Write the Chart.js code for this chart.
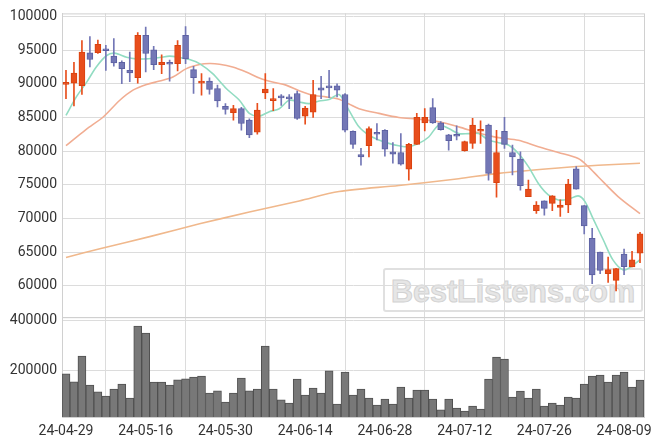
<!DOCTYPE html>
<html>
<head>
<meta charset="utf-8">
<script src="https://cdn.jsdelivr.net/npm/chart.js@4"></script>
<style>
  html, body { margin: 0; padding: 0; background: #fff; }
  #wrap { position: relative; width: 663px; height: 447px; }
  #mark {
    position: absolute; left: 383px; top: 268px; width: 256px; height: 40px;
    border: 2px solid #e0e0e0; border-radius: 3px;
    font: bold 30.5px "Liberation Sans", Arial, sans-serif; color: #e6e6e6;
    -webkit-text-stroke: 1px #d2d2d2;
    text-align: center; line-height: 42px; white-space: nowrap;
  }
  canvas { position: absolute; left: 0; top: 0; }
</style>
</head>
<body>
<div id="wrap">
  <div id="mark">BestListens.com</div>
  <canvas id="chart" width="663" height="447"></canvas>
</div>
<script>
// trading days
const dates = [
  '24-04-29','24-04-30','24-05-02','24-05-03','24-05-07','24-05-08','24-05-09','24-05-10','24-05-13','24-05-14',
  '24-05-16','24-05-17','24-05-20','24-05-21','24-05-22','24-05-23','24-05-24','24-05-27','24-05-28','24-05-29',
  '24-05-30','24-05-31','24-06-03','24-06-04','24-06-05','24-06-07','24-06-10','24-06-11','24-06-12','24-06-13',
  '24-06-14','24-06-17','24-06-18','24-06-19','24-06-20','24-06-21','24-06-24','24-06-25','24-06-26','24-06-27',
  '24-06-28','24-07-01','24-07-02','24-07-03','24-07-04','24-07-05','24-07-08','24-07-09','24-07-10','24-07-11',
  '24-07-12','24-07-15','24-07-16','24-07-17','24-07-18','24-07-19','24-07-22','24-07-23','24-07-24','24-07-25',
  '24-07-26','24-07-29','24-07-30','24-07-31','24-08-01','24-08-02','24-08-05','24-08-06','24-08-07','24-08-08',
  '24-08-09','24-08-12','24-08-13'
];

const open = [
  89900,90100,89700,94600,94600,95100,94100,93200,92000,90900,
  97200,95050,92850,93200,93000,97200,92100,90100,90400,89300,
  86650,85700,86300,84600,82800,88650,87500,88200,87850,88550,
  85200,85800,89400,89650,89700,88400,82950,79500,80800,82750,
  83100,79900,79800,77300,81000,84200,86450,84200,82400,82500,
  80050,81150,82950,83850,75300,82950,79800,78800,73250,71150,
  72600,72250,71650,72000,77350,71900,67050,65000,61800,60800,
  64700,62800,64850
];
const high = [
  92000,93200,96400,97000,96500,95700,96700,93400,94700,97600,
  98400,95550,94300,93500,96400,98500,92600,91500,90900,89800,
  87050,86800,86500,84800,87100,91500,89300,88400,88400,88900,
  86650,90500,91100,92000,90000,88550,83000,80400,83600,84100,
  83200,81250,82600,81150,85600,86300,87800,84400,82500,83750,
  81500,84850,84500,84000,83100,85000,80900,79900,75700,72500,
  72600,73400,72750,75800,77700,71900,68550,65000,64250,62600,
  65450,65100,67950
];
const low = [
  87800,86700,88400,92500,94500,92000,92600,90000,90300,90100,
  91750,92100,91500,90400,91900,93000,88550,88300,88450,86550,
  85500,84600,83100,82000,82500,87800,86000,86800,86300,84700,
  84000,85000,87800,87950,88050,82850,80400,77900,79150,81650,
  79250,78200,77900,75700,81000,83000,84100,83100,80150,81650,
  80000,80400,81150,75700,73150,80400,76450,74200,73250,70750,
  70500,71150,70300,70850,74350,67700,60300,61800,60500,59250,
  61650,62800,63450
];
const close = [
  90200,91600,94700,93600,95850,94900,93100,92250,91600,97200,
  94500,92850,93200,92900,95700,93700,90900,90400,89150,87450,
  86200,86300,84100,82400,86100,89200,87600,87900,87750,84850,
  86400,88400,89050,89400,89050,83100,81000,79150,83350,82500,
  80300,79550,78050,81000,85000,85000,84200,83200,81550,82200,
  81400,83850,83250,76700,79800,81000,79150,74850,74350,72000,
  71500,73350,72000,75100,74350,68900,61600,62300,62400,62550,
  62850,63850,67700
];
const volume = [
  188000,156000,258700,142700,116000,98700,126700,146700,90700,378700,
  350700,154700,154700,142700,164000,168000,174700,178700,110700,120000,
  74700,110700,170700,120000,126700,298700,126700,84000,70700,166700,
  102700,130700,110700,200000,66700,194700,102700,126700,90700,62700,
  86700,66700,134700,90700,122700,122700,86700,43300,86700,50700,
  38700,58700,46700,166700,254700,246700,94700,118700,90700,126700,
  58700,70700,62700,94700,90700,146700,178700,182700,154700,182700,
  194700,134700,162700
];

// moving averages: [day index, price]
const maShort = [
  [0,85300],[1.3,88050],[2.6,90250],[3.8,92500],[5.1,94200],[6.1,94550],[7.6,93950],[8.8,93700],
  [10.1,93700],[11.75,93900],[13,94100],[14.25,93900],[15.5,93600],[16.75,93000],[18.4,91500],
  [20.1,89300],[21.75,87550],[23,85600],[24.25,85200],[25.5,85850],[26.75,86300],[28,87550],
  [29.25,87300],[30.5,87050],[31.75,87450],[33,87650],[34.25,88400],[35.5,86050],[36.75,83600],
  [38,82350],[39.25,81650],[40.5,81150],[41.75,80800],[43,80650],[44.25,81150],[45.5,82100],
  [46.75,83850],[48,83350],[49.25,82600],[50.5,82600],[51.75,82600],[53,81650],[54.25,81250],
  [55.5,80900],[56.75,79650],[58,77700],[59.25,75200],[60.5,73500],[61.75,72750],[63,72850],
  [64.25,73350],[65.1,72500],[66.1,70000],[67.4,66800],[68.6,63850],[69.9,62350],[70.9,62850],
  [72,63870]
];
const maMid = [
  [0,80800],[2.5,83200],[4.7,85100],[6.75,87550],[8.4,89050],[10.1,89900],[11.75,90400],
  [13.4,91000],[15.1,92250],[16.75,92850],[18,93000],[19.25,92900],[20.9,92500],[22.6,91750],
  [24.25,90850],[25.9,90250],[27.6,89800],[29.25,88950],[30.9,88300],[32.6,88050],[34.25,87700],
  [35.5,87000],[36.75,86300],[39.25,85600],[41.75,85000],[44.25,84750],[46.75,84350],
  [49.25,83600],[51.75,82700],[54.25,82000],[56.75,81600],[59.25,80650],[61.75,79800],
  [64.25,78900],[65.5,77700],[66.75,76200],[69.25,73250],[72,70700]
];
const maLong = [
  [0,64200],[4.25,65500],[10.5,67300],[16.75,69200],[23,70950],[29.25,72600],[34.25,74000],
  [41.75,74900],[49.25,75900],[54.25,76700],[61.75,77500],[66.75,77900],[72,78200]
];

const priceTicks = [60000, 65000, 70000, 75000, 80000, 85000, 90000, 95000, 100000];
const volumeTicks = [200000, 400000];
const dateTicks = [0, 10, 20, 30, 40, 50, 60, 70];

const UP = '#e84e1c', UP_EDGE = '#d9420f';
const DOWN = '#7377b6', DOWN_EDGE = '#5d61a2';
const GRID = '#dcdcdc';
const isUp = i => close[i] >= open[i];

const frame = {
  id: 'frame',
  beforeDatasetsDraw(chart) {
    const { ctx, chartArea: a, scales } = chart;
    ctx.save();
    ctx.strokeStyle = '#d0d0d0';
    ctx.lineWidth = 1;
    ctx.strokeRect(a.left + 0.5, scales.y.top + 0.5, a.right - a.left, scales.y.bottom - scales.y.top);
    ctx.strokeRect(a.left + 0.5, scales.yv.top + 0.5, a.right - a.left, scales.yv.bottom - scales.yv.top);
    ctx.restore();
  }
};

const tickFont = { family: 'Roboto', size: 14 };

new Chart(document.getElementById('chart').getContext('2d'), {
  type: 'bar',
  data: {
    datasets: [
      {
        label: 'body',
        data: dates.map((d, i) => ({ x: i, y: [open[i], close[i]] })),
        yAxisID: 'y',
        backgroundColor: c => isUp(c.dataIndex) ? UP : DOWN,
        borderColor: c => isUp(c.dataIndex) ? UP_EDGE : DOWN_EDGE,
        borderWidth: 1,
        borderSkipped: false,
        barThickness: 6,
        minBarLength: 2,
        grouped: false,
        order: 0
      },
      {
        label: 'wick',
        data: dates.map((d, i) => ({ x: i, y: [low[i], high[i]] })),
        yAxisID: 'y',
        backgroundColor: c => isUp(c.dataIndex) ? UP : DOWN,
        borderWidth: 0,
        barThickness: 1,
        grouped: false,
        order: 1
      },
      {
        type: 'line', label: 'MA5',
        data: maShort.map(p => ({ x: p[0], y: p[1] })),
        yAxisID: 'y', borderColor: '#92dcc2', borderWidth: 1.6,
        pointRadius: 0, tension: 0.3, order: 2
      },
      {
        type: 'line', label: 'MA20',
        data: maMid.map(p => ({ x: p[0], y: p[1] })),
        yAxisID: 'y', borderColor: '#f1ad92', borderWidth: 1.6,
        pointRadius: 0, tension: 0.3, order: 3
      },
      {
        type: 'line', label: 'MA60',
        data: maLong.map(p => ({ x: p[0], y: p[1] })),
        yAxisID: 'y', borderColor: '#f0b88c', borderWidth: 1.6,
        pointRadius: 0, tension: 0.3, order: 4
      },
      {
        label: 'volume',
        data: dates.map((d, i) => ({ x: i, y: volume[i] })),
        yAxisID: 'yv',
        backgroundColor: '#787878',
        borderColor: '#505050',
        borderWidth: 1,
        barThickness: 8,
        grouped: false,
        order: 5
      }
    ]
  },
  options: {
    responsive: false,
    animation: false,
    layout: { padding: { top: 13, right: 19, left: 0, bottom: 0 } },
    plugins: { legend: { display: false }, tooltip: { enabled: false } },
    scales: {
      x: {
        type: 'linear',
        offset: false,
        min: -0.5,
        max: 72.5,
        afterBuildTicks: s => { s.ticks = dateTicks.map(v => ({ value: v })); },
        afterFit: s => { s.height = 30; },
        ticks: { callback: v => dates[v], font: tickFont, color: '#333', maxRotation: 0, padding: 6 },
        grid: { color: GRID, drawTicks: false },
        border: { color: '#d0d0d0' }
      },
      yv: {
        stack: 'main',
        stackWeight: 100,
        position: 'left',
        min: 15000,
        max: 415000,
        afterBuildTicks: s => { s.ticks = volumeTicks.map(v => ({ value: v })); },
        afterFit: s => { s.width = 62; },
        ticks: { callback: v => String(v), font: tickFont, color: '#333', padding: 5 },
        grid: { color: GRID, drawTicks: false },
        border: { color: '#d0d0d0' }
      },
      y: {
        stack: 'main',
        stackWeight: 304,
        position: 'left',
        min: 55350,
        max: 100450,
        afterBuildTicks: s => { s.ticks = priceTicks.map(v => ({ value: v })); },
        afterFit: s => { s.width = 62; },
        ticks: { callback: v => String(v), font: tickFont, color: '#333', padding: 5 },
        grid: { color: GRID, drawTicks: false },
        border: { color: '#d0d0d0' }
      }
    }
  },
  plugins: [frame]
});
</script>
</body>
</html>
